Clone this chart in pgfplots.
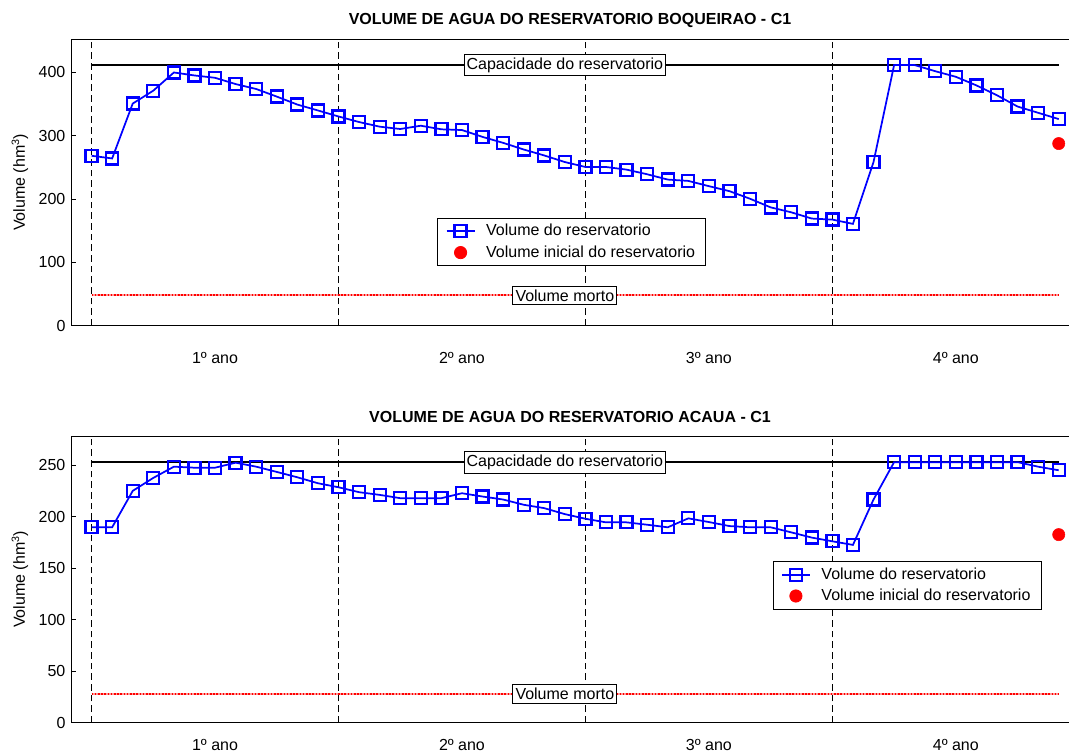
\documentclass[12pt,border=0pt]{standalone}
\usepackage{fontspec}
\setmainfont{Liberation Sans}
\usepackage{pgfplots}
\usepackage{pgfplotstable}
\pgfplotsset{compat=1.18}

% volume mensal (hm3), meses 1..48
\pgfplotstableread{
mes vol
1 268.4
2 264.2
3 350.9
4 371.3
5 400.0
6 395.3
7 391.6
8 381.7
9 373.9
10 361.9
11 349.3
12 340.0
13 330.5
14 321.7
15 314.4
16 310.7
17 315.9
18 310.2
19 309.1
20 298.2
21 288.8
22 278.3
23 268.9
24 258.5
25 250.7
26 250.7
27 246.5
28 239.2
29 230.8
30 228.7
31 220.4
32 212.5
33 200.5
34 186.9
35 179.1
36 169.2
37 167.6
38 160.8
39 258.5
40 411.7
41 411.7
42 402.0
43 393.2
44 379.6
45 364.0
46 346.2
47 336.3
48 326.4
}\boqueirao

\pgfplotstableread{
mes vol
1 189.8
2 189.8
3 225.2
4 237.8
5 248.7
6 247.7
7 247.7
8 252.6
9 248.7
10 243.6
11 238.4
12 232.6
13 228.7
14 223.9
15 221.3
16 218.1
17 218.1
18 218.1
19 222.9
20 219.7
21 216.8
22 211.7
23 208.4
24 202.6
25 198.1
26 194.6
27 194.6
28 192.3
29 189.8
30 198.5
31 194.9
32 191.0
33 189.8
34 189.8
35 184.9
36 179.8
37 176.2
38 172.7
39 216.8
40 253.1
41 253.1
42 253.1
43 253.1
44 253.1
45 253.1
46 253.1
47 248.7
48 245.2
}\acaua

\tikzset{caixa/.style={draw=black, fill=white, line width=0.6pt, inner xsep=2pt, inner ysep=2.5pt, font=\normalsize}}

\pgfplotsset{
  painel/.style={
    width=748.5pt, height=215pt, scale only axis,
    xmin=0, xmax=48.5, ymin=0,
    axis x line*=box, axis y line*=left,
    axis line style={-, line width=0.6pt},
    tick align=inside, major tick length=4pt,
    tick style={black, line width=0.6pt},
    xtick={7,19,31,43},
    xticklabels={1º ano,2º ano,3º ano,4º ano},
    xtick style={draw=none},
    ticklabel style={font=\normalsize},
    /pgf/number format/assume math mode=true,
    ylabel={Volume (hm\textsuperscript{3})},
    ylabel style={at={(axis description cs:-0.0511,0.5)}, anchor=center, font=\normalsize},
    title style={at={(0.5,1)}, anchor=base, yshift=4.5pt, font=\normalsize\bfseries},
    legend style={anchor=north west, draw=black, fill=white, font=\normalsize,
      cells={anchor=west}, line width=0.6pt, inner xsep=6pt, inner ysep=2.5pt, row sep=1.5pt,
      /tikz/every odd column/.append style={column sep=6pt},
      /tikz/every even column/.append style={column sep=9pt}},
    legend image code/.code={\draw[mark repeat=2, mark phase=2]
      plot coordinates {(0cm,0cm) (0.37cm,0cm) (0.74cm,0cm)};},
  },
  divisao/.style={black, line width=0.6pt, dash pattern=on 5pt off 3pt, forget plot},
  capac/.style={black, line width=1.6pt, forget plot},
  mortofundo/.style={red!40, line width=1.6pt, forget plot},
  morto/.style={red, line width=1.6pt, dash pattern=on 1.2pt off 1.2pt, forget plot},
  serie/.style={blue, line width=1.3pt, mark=square, mark size=4.5pt, mark options={line width=1.7pt, solid}},
  inicial/.style={only marks, mark=*, mark size=4.6pt, red, mark options={fill=red, draw=red}},
}

\begin{document}
\begin{tikzpicture}
\path[use as bounding box] (-53.25pt,29.25pt) rectangle (749.25pt,-537.75pt);

\begin{axis}[painel, at={(0,0)}, anchor=north west, ymax=452.9,
  ytick={0,100,200,300,400},
  title={VOLUME DE AGUA DO RESERVATORIO BOQUEIRAO - C1},
  xticklabel style={anchor=base, yshift=-28.5pt},
  legend style={at={(0.367,0.376)}}]
\addplot[divisao] coordinates {(1,0) (1,452.9)};
\addplot[divisao] coordinates {(13,0) (13,452.9)};
\addplot[divisao] coordinates {(25,0) (25,452.9)};
\addplot[divisao] coordinates {(37,0) (37,452.9)};
\addplot[capac] coordinates {(1,411.7) (48,411.7)};
\addplot[mortofundo] coordinates {(1,48) (48,48)};
\addplot[morto] coordinates {(1,48) (48,48)};
\addplot[serie] table[x=mes, y=vol] {\boqueirao};
\addplot[inicial] coordinates {(48,287.7)};
\legend{Volume do reservatorio, Volume inicial do reservatorio}
\node[caixa] at (axis cs:24,411.7) {Capacidade do reservatorio};
\node[caixa] at (axis cs:24,48) {Volume morto};
\end{axis}

\begin{axis}[painel, at={(0,-297.75pt)}, anchor=north west, ymax=278.5,
  ytick={0,50,100,150,200,250},
  title={VOLUME DE AGUA DO RESERVATORIO ACAUA - C1},
  xticklabel style={anchor=base, yshift=-21pt},
  legend style={at={(0.703,0.563)}}]
\addplot[divisao] coordinates {(1,0) (1,278.5)};
\addplot[divisao] coordinates {(13,0) (13,278.5)};
\addplot[divisao] coordinates {(25,0) (25,278.5)};
\addplot[divisao] coordinates {(37,0) (37,278.5)};
\addplot[capac] coordinates {(1,253.1) (48,253.1)};
\addplot[mortofundo] coordinates {(1,28) (48,28)};
\addplot[morto] coordinates {(1,28) (48,28)};
\addplot[serie] table[x=mes, y=vol] {\acaua};
\addplot[inicial] coordinates {(48,182.7)};
\legend{Volume do reservatorio, Volume inicial do reservatorio}
\node[caixa] at (axis cs:24,253.1) {Capacidade do reservatorio};
\node[caixa] at (axis cs:24,28) {Volume morto};
\end{axis}
\end{tikzpicture}
\end{document}
